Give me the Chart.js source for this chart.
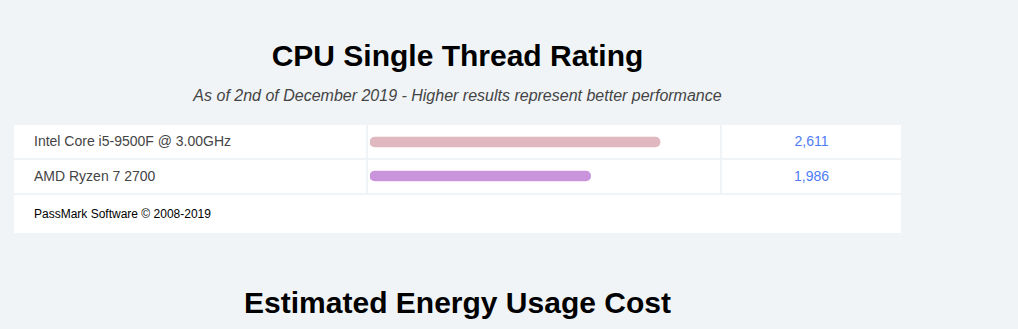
<!DOCTYPE html>
<html>
<head>
<meta charset="utf-8">
<script src="https://cdn.jsdelivr.net/npm/chart.js@4/dist/chart.umd.min.js"></script>
<style>
    body { margin: 0; background: #f0f4f7; font-family: "Liberation Sans", Arial, sans-serif; width: 1018px; height: 329px; overflow: hidden; position: relative; }
    .title { position: absolute; left: 14px; width: 887px; text-align: center; font-weight: bold; font-size: 30px; color: #000; line-height: 34px; }
    .subtitle { position: absolute; left: 14px; width: 887px; top: 86px; text-align: center; font-style: italic; font-size: 16px; color: #444; line-height: 20px; }
    #grid { position: absolute; left: 14px; top: 125px; width: 887px; display: grid; grid-template-columns: 352px 352px 179px; grid-template-rows: 33px 33px 38px; gap: 2px; }
    #grid div { background: #fff; font-size: 14px; line-height: 33px; }
    #grid .name { padding-left: 20px; color: #444; }
    #grid .score { text-align: center; color: #4d7cf4; }
    #grid .foot { grid-column: 1 / 4; font-size: 12px; color: #000; line-height: 38px; padding-left: 20px; }
    #chartWrap { position: absolute; left: 370px; top: 125px; width: 350px; height: 68px; }
</style>
</head>
<body>
<div class="title" style="top:39px">CPU Single Thread Rating</div>
<div class="subtitle">As of 2nd of December 2019 - Higher results represent better performance</div>
<div id="grid"></div>
<div id="chartWrap"><canvas id="myChart" width="350" height="68"></canvas></div>
<div class="title" style="top:286px">Estimated Energy Usage Cost</div>
<script>
/*** Data ***/
const cpuNames = ["Intel Core i5-9500F @ 3.00GHz", "AMD Ryzen 7 2700"];
const ratings = [2611, 1986];
const barColors = ["#e0b9c0", "#c994db"];
const scaleMax = 3150;
const footerText = "PassMark Software \u00a9 2008-2019";

/*** Table ***/
function buildGrid() {
    var grid = document.getElementById("grid");
    cpuNames.forEach((name, i) => {
        var nameCell = document.createElement("div");
        nameCell.className = "name";
        nameCell.textContent = name;
        grid.appendChild(nameCell);

        grid.appendChild(document.createElement("div"));

        var scoreCell = document.createElement("div");
        scoreCell.className = "score";
        scoreCell.textContent = ratings[i].toLocaleString("en-US");
        grid.appendChild(scoreCell);
    });
    var foot = document.createElement("div");
    foot.className = "foot";
    foot.textContent = footerText;
    grid.appendChild(foot);
}

/*** Chart ***/
function renderChart() {
    const ctx = document.getElementById("myChart").getContext("2d");
    window.myChart = new Chart(ctx, {
        type: "bar",
        data: {
            labels: cpuNames,
            datasets: [{
                data: ratings,
                backgroundColor: barColors,
                barThickness: 10,
                borderRadius: 5,
                borderSkipped: false
            }]
        },
        options: {
            indexAxis: "y",
            responsive: false,
            animation: false,
            layout: { padding: 0 },
            plugins: { legend: { display: false }, tooltip: { enabled: false } },
            scales: {
                x: { display: false, min: 0, max: scaleMax },
                y: { display: false }
            }
        }
    });
}

buildGrid();
renderChart();
</script>
</body>
</html>
